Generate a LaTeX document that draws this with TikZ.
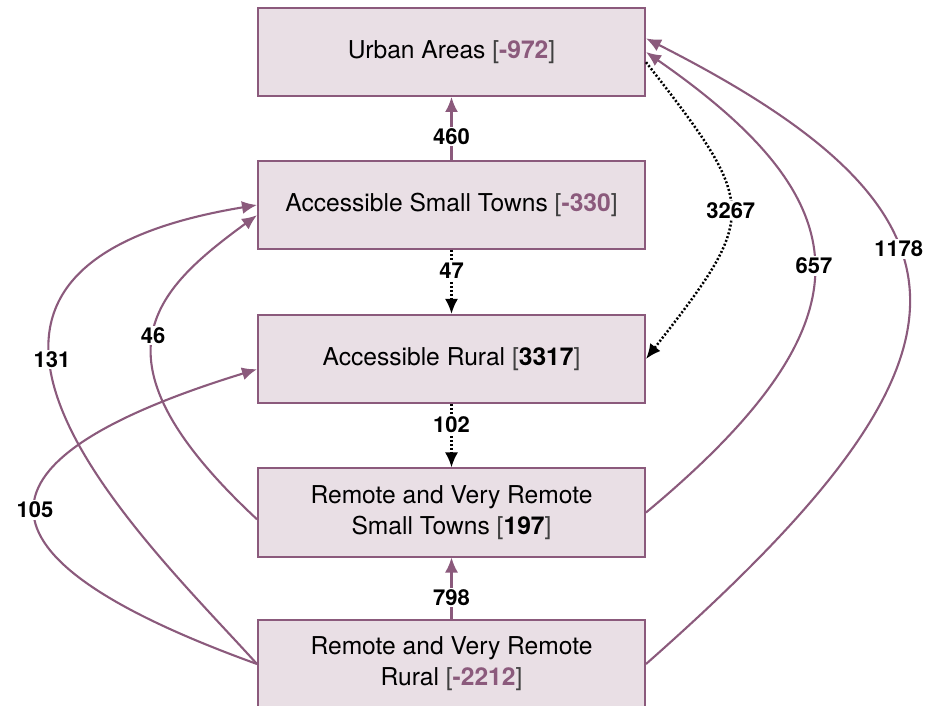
\documentclass[tikz,border=0pt]{standalone}
\usepackage{fontspec}
\setmainfont{TeX Gyre Heros}
\usetikzlibrary{arrows.meta}
\definecolor{mauve}{HTML}{8B5A7C}
\definecolor{mauvefill}{HTML}{E9DFE5}
\begin{document}
\begin{tikzpicture}[x=0.2mm,y=0.2mm,>={Latex[length=3mm,width=2.6mm]},
	region/.style={draw=mauve,fill=mauvefill,line width=0.4mm,
		minimum width=77.4mm,minimum height=17.6mm,inner sep=0pt,
		align=center,font=\fontsize{14}{17.6}\selectfont},
	flow/.style={->,draw=mauve,line width=0.42mm},
	dotflow/.style={->,draw=black,line width=0.5mm,dash pattern=on 0.4mm off 0.4mm},
	amount/.style={fill=white,inner sep=1pt,font=\fontsize{12.5}{12.5}\bfseries\selectfont}]

\def\saldo#1#2{\textcolor{black!75}{[}\textcolor{#1}{\textbf{#2}}\textcolor{black!75}{]}}

\useasboundingbox (0,0) rectangle (945,705);

\node[region] (urban) at (451.5,653)   {Urban Areas \saldo{mauve}{-972}};
\node[region] (ast)   at (451.5,500)   {Accessible Small Towns \saldo{mauve}{-330}};
\node[region] (ar)    at (451.5,346)   {Accessible Rural \saldo{black}{3317}};
\node[region] (rst)   at (451.5,192.5) {Remote and Very Remote\\Small Towns \saldo{black}{197}};
\node[region] (rr)    at (451.5,41)    {Remote and Very Remote\\Rural \saldo{mauve}{-2212}};

\draw[flow] (ast) -- node[amount,pos=0.37] (n460) {460} (urban);
\draw[dotflow] (ast) -- node[amount,pos=0.33] (n47) {47} (ar);
\draw[dotflow] (ar) -- node[amount,pos=0.33] (n102) {102} (rst);
\draw[flow] (rr) -- node[amount,pos=0.35] (n798) {798} (rst);

\draw[dotflow] (urban.-3) .. controls +(113,-145) and +(113,145)
	.. node[amount] (n3267) {3267} (ar.east);
\draw[flow] (rst.east) .. controls +(232,193) and +(216,-150)
	.. node[amount] (n657) {657} (urban.east);
\draw[flow] (rr.east) .. controls +(345,304) and +(355,-180)
	.. node[amount,pos=0.6] (n1178) {1178} (urban.4);

\draw[flow] (rst.182) .. controls +(-173,161) and +(-104,-76)
	.. node[amount] (n46) {46} (ast.183);
\draw[flow] (rr.west) .. controls +(-112,124) and +(-400,-66)
	.. node[amount,pos=0.6] (n131) {131} (ast.west);
\draw[flow] (rr.west) .. controls +(-299,108) and +(-293,-90)
	.. node[amount] (n105) {105} (ar.183);

\end{tikzpicture}
\end{document}
